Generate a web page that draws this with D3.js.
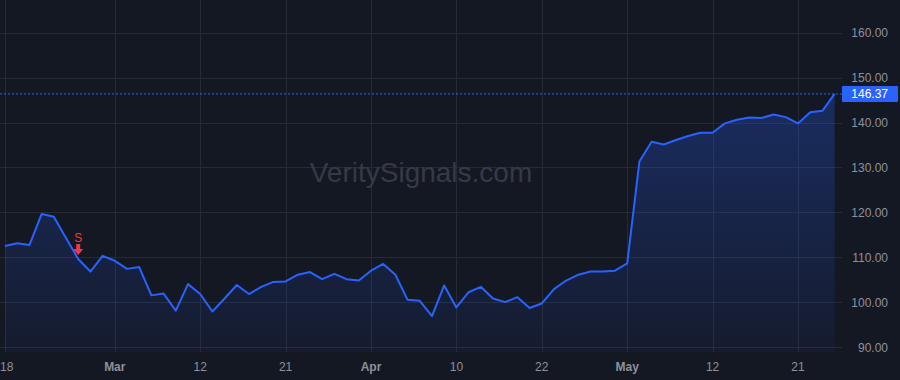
<!DOCTYPE html>
<html><head><meta charset="utf-8">
<script src="https://cdn.jsdelivr.net/npm/d3@7"></script>
<style>
html,body{margin:0;padding:0;background:#141823;}
svg{display:block;font-family:"Liberation Sans",Arial,sans-serif;}
</style></head>
<body>
<svg id="c" width="900" height="380"></svg>
<script>
const prices = [112.5,113.1,112.7,119.6,119.0,114.3,109.6,106.8,110.3,109.2,
107.4,107.8,101.5,101.9,98.1,104.0,101.8,97.9,100.8,103.8,
101.8,103.4,104.5,104.6,106.1,106.7,105.1,106.3,105.1,104.8,
107.0,108.5,106.1,100.5,100.3,96.9,103.7,98.8,102.2,103.4,
100.8,100.0,101.1,98.7,99.7,102.9,104.8,106.1,106.8,106.8,
107.0,108.6,131.3,135.7,135.1,136.1,137.0,137.7,137.7,139.8,
140.6,141.1,141.0,141.8,141.2,139.8,142.3,142.6,146.37];
const tickIndex = [0,9,16,23,30,37,44,51,58,65];
const tickLabels = ["18","Mar","12","21","Apr","10","22","May","12","21"];
const tickBold = [false,true,false,false,true,false,false,true,false,false];
const yTicks = [90,100,110,120,130,140,150,160];
const signalIndex = 6;
const signalLabel = "S";
const lastPrice = 146.37;

const svg = d3.select("#c");
const W = 900, H = 380, plotR = 842, plotB = 352;
const x = d3.scaleLinear().domain([0, 68]).range([5, 834.6]);
const y = d3.scaleLinear().domain([90, 160]).range([347, 32.7]);

const defs = svg.append("defs");
const g = defs.append("linearGradient").attr("id","fillg").attr("x1",0).attr("y1",0).attr("x2",0).attr("y2",1);
g.append("stop").attr("offset","0%").attr("stop-color","#2962ff").attr("stop-opacity",0.28);
g.append("stop").attr("offset","100%").attr("stop-color","#2962ff").attr("stop-opacity",0.05);

// grid
const grid = svg.append("g");
grid.selectAll("line.h").data(yTicks).enter().append("line")
  .attr("x1",0).attr("x2",plotR).attr("y1",d=>Math.round(y(d))+0.5).attr("y2",d=>Math.round(y(d))+0.5)
  .attr("stroke","#262a35").attr("stroke-width",1);
grid.selectAll("line.v").data(tickIndex).enter().append("line")
  .attr("y1",0).attr("y2",plotB).attr("x1",d=>Math.round(x(d))+0.5).attr("x2",d=>Math.round(x(d))+0.5)
  .attr("stroke","#262a35").attr("stroke-width",1);

// watermark
svg.append("text").attr("x",421).attr("y",182).attr("text-anchor","middle")
  .attr("font-size",28).attr("fill","#363a46").attr("font-family","'Liberation Sans',Arial,sans-serif")
  .text("VeritySignals.com");

// area
const area = d3.area().x((d,i)=>x(i)).y0(plotB).y1(d=>y(d));
svg.append("path").datum(prices).attr("d",area).attr("fill","url(#fillg)");
const line = d3.line().x((d,i)=>x(i)).y(d=>y(d));
svg.append("path").datum(prices).attr("d",line).attr("fill","none")
  .attr("stroke","#2962ff").attr("stroke-width",2).attr("stroke-linejoin","round");

// last price dotted line
svg.append("line").attr("x1",0).attr("x2",plotR).attr("y1",y(lastPrice)).attr("y2",y(lastPrice))
  .attr("stroke","#2962ff").attr("stroke-width",1).attr("stroke-dasharray","2,2");

// signal marker
const sx = x(signalIndex), sy = y(prices[signalIndex]);
svg.append("text").attr("x",sx).attr("y",sy-17).attr("text-anchor","middle")
  .attr("font-size",12).attr("fill","#f23645").text(signalLabel);
svg.append("path")
  .attr("d",`M${sx-2},${sy-15} L${sx+2},${sy-15} L${sx+2},${sy-10} L${sx+5},${sy-10} L${sx},${sy-4} L${sx-5},${sy-10} L${sx-2},${sy-10} Z`)
  .attr("fill","#f23645");

// y axis labels
svg.append("g").selectAll("text").data(yTicks).enter().append("text")
  .attr("x",888).attr("y",d=>y(d)+4.5).attr("text-anchor","end")
  .attr("font-size",12).attr("fill","#8e919b").text(d=>d.toFixed(2));

// price label
const py = y(lastPrice);
svg.append("rect").attr("x",842).attr("y",py-8).attr("width",56).attr("height",16).attr("rx",1).attr("fill","#2962ff");
svg.append("text").attr("x",888).attr("y",py+4.5).attr("text-anchor","end")
  .attr("font-size",12).attr("fill","#ffffff").text(lastPrice.toFixed(2));

// x axis labels
svg.append("g").selectAll("text").data(tickIndex).enter().append("text")
  .attr("x",(d,i)=> i===0 ? 0 : x(d)).attr("y",371)
  .attr("text-anchor",(d,i)=> i===0 ? "start" : "middle")
  .attr("font-size",12).attr("font-weight",(d,i)=>tickBold[i]?"bold":"normal")
  .attr("fill","#8e919b").text((d,i)=>tickLabels[i]);
</script>
</body></html>
